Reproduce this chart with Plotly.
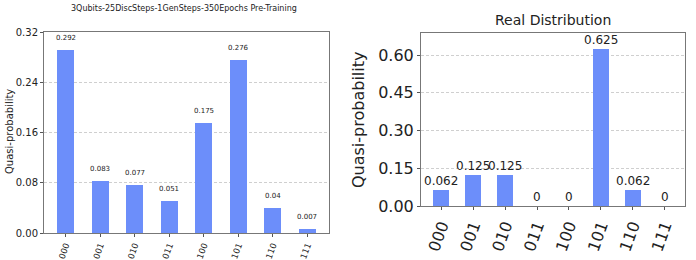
import plotly.graph_objects as go

states = ["000", "001", "010", "011", "100", "101", "110", "111"]
pretrain_vals = [0.292, 0.083, 0.077, 0.051, 0.175, 0.276, 0.04, 0.007]
real_vals = [0.062, 0.125, 0.125, 0, 0, 0.625, 0.062, 0]
left_ticks = [0.0, 0.08, 0.16, 0.24, 0.32]
right_ticks = [0.0, 0.15, 0.30, 0.45, 0.60]
left_title = "3Qubits-25DiscSteps-1GenSteps-350Epochs Pre-Training"
right_title = "Real Distribution"
ylab = "Quasi-probability"

W, H = 696, 260
BAR = "rgb(108,142,250)"
FONT = "DejaVu Sans"

fig = go.Figure()
fig.add_trace(go.Bar(x=states, y=pretrain_vals, width=0.5, marker=dict(color=BAR, line=dict(width=0)),
                     xaxis="x", yaxis="y", showlegend=False))
fig.add_trace(go.Bar(x=states, y=real_vals, width=0.5, marker=dict(color=BAR, line=dict(width=0)),
                     xaxis="x2", yaxis="y2", showlegend=False))

def px(x):
    return x / W

def py(y):
    return 1 - y / H

axcommon = dict(showline=True, mirror=True, linecolor="#777", linewidth=1, ticks="outside",
                ticklen=3, tickcolor="#555", zeroline=False, automargin=False)
gridstyle = dict(showgrid=True, gridcolor="#cfcfcf", griddash="3px,2px", gridwidth=0.8)

fig.update_layout(
    width=W, height=H, margin=dict(l=0, r=0, t=0, b=0, autoexpand=False),
    paper_bgcolor="white", plot_bgcolor="white",
    font=dict(family=FONT, color="#222"),
    bargap=0,
    xaxis=dict(domain=[px(44), px(329)], anchor="y", type="category", range=[-0.63, 7.63],
               tickangle=-70, tickfont=dict(size=8.5), showgrid=False, **axcommon),
    yaxis=dict(domain=[py(233), py(32)], anchor="x", range=[0, 0.32], tickvals=left_ticks,
               ticktext=[f"{t:.2f}" for t in left_ticks], tickfont=dict(size=10),
               **gridstyle, **axcommon),
    xaxis2=dict(domain=[px(421), px(685)], anchor="y2", type="category", range=[-0.64, 7.64],
                tickangle=-70, tickfont=dict(size=16), showgrid=False, **axcommon),
    yaxis2=dict(domain=[py(206), py(33)], anchor="x2", range=[0, 0.6875], tickvals=right_ticks,
                ticktext=[f"{t:.2f}" for t in right_ticks], tickfont=dict(size=16),
                **gridstyle, **axcommon),
)

ann = []
for i, v in enumerate(pretrain_vals):
    ann.append(dict(x=i, y=v, xref="x", yref="y", text=f"{v:g}", showarrow=False,
                    yanchor="bottom", yshift=6, font=dict(size=7, family=FONT, color="#222")))
for i, v in enumerate(real_vals):
    ann.append(dict(x=i, y=v, xref="x2", yref="y2", text=f"{v:g}", showarrow=False,
                    yanchor="bottom", yshift=0, font=dict(size=12, family=FONT, color="#222")))
ann.append(dict(x=px(184), y=py(8), xref="paper", yref="paper", text=left_title, showarrow=False,
                xanchor="center", yanchor="middle", font=dict(size=8, family=FONT, color="#222")))
ann.append(dict(x=px(553), y=py(20), xref="paper", yref="paper", text=right_title, showarrow=False,
                xanchor="center", yanchor="middle", font=dict(size=14, family=FONT, color="#222")))
ann.append(dict(x=px(9), y=py(132), xref="paper", yref="paper", text=ylab, showarrow=False, textangle=-90,
                xanchor="center", yanchor="middle", font=dict(size=10, family=FONT, color="#222")))
ann.append(dict(x=px(358), y=py(120), xref="paper", yref="paper", text=ylab, showarrow=False, textangle=-90,
                xanchor="center", yanchor="middle", font=dict(size=16, family=FONT, color="#222")))
fig.update_layout(annotations=ann)

fig.write_html("out.html", config={"displayModeBar": False},
               post_script="document.body.style.margin='0';document.body.style.overflow='hidden';")
